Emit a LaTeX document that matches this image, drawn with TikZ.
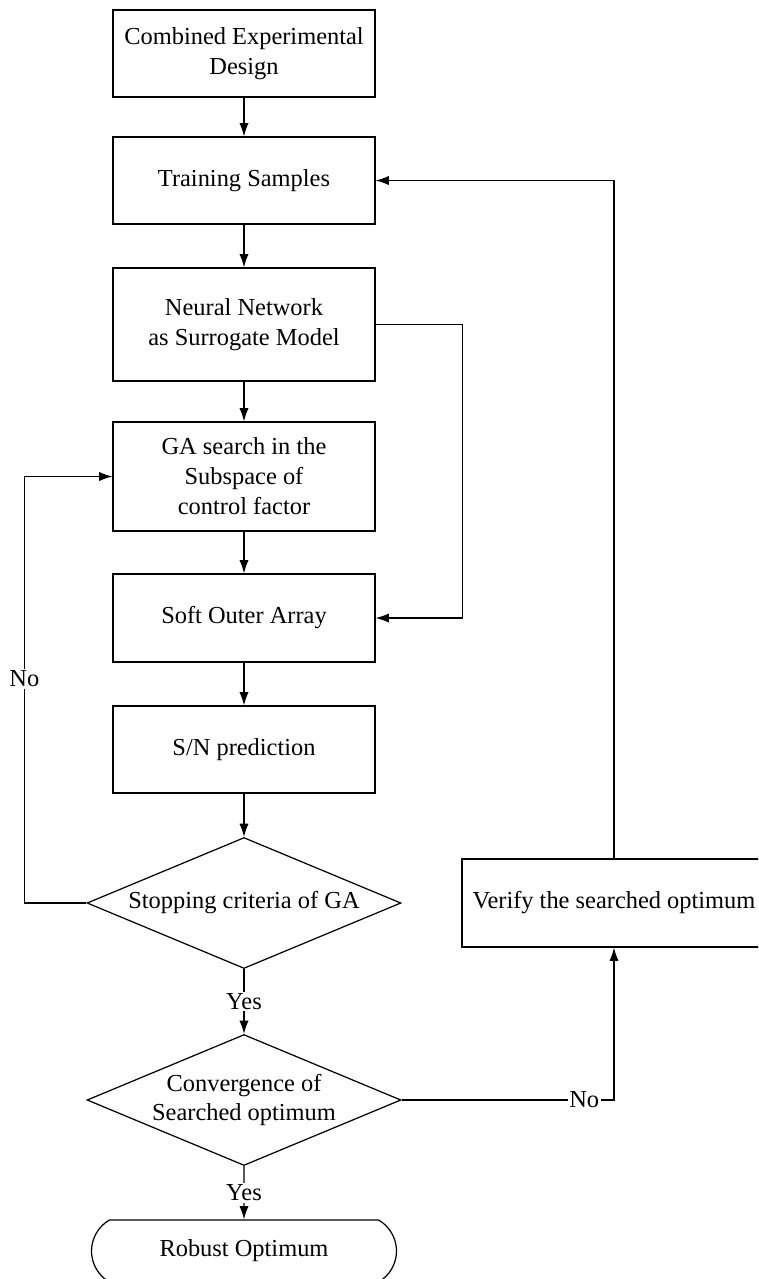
\documentclass[tikz,border=0pt]{standalone}
\usepackage{fontspec}
\setmainfont{Liberation Serif}
\usetikzlibrary{arrows.meta,shapes.geometric,shapes.misc}

\begin{document}
\begin{tikzpicture}[x=0.02cm,y=-0.02cm,>={Latex[length=7.5pt,width=5.2pt]},line width=0.7pt,
    font=\fontsize{13.9}{17}\selectfont,
    box/.style={draw,minimum width=5.24cm,minimum height=1.74cm,align=center,inner sep=0pt},
    test/.style={draw,diamond,aspect=2.4,minimum width=6.28cm,minimum height=2.62cm,align=center,inner sep=0pt},
    lab/.style={fill=white,inner sep=1pt}]
    \useasboundingbox (0,0) rectangle (758,1279);
    \clip (0,0) rectangle (758,1279);
    \node[box] (design) at (244,53.5) {Combined Experimental\\ Design};
    \node[box] (train) at (244,180.5) {Training Samples};
    \node[box,minimum height=2.26cm] (nn) at (244,324.5) {Neural Network\\ as Surrogate Model};
    \node[box,minimum height=2.18cm] (ga) at (244,476.5) {GA search in the\\ Subspace of\\ control factor};
    \node[box,minimum height=1.76cm] (soa) at (244,618) {Soft Outer Array};
    \node[box] (sn) at (244,749.5) {S/N prediction};
    \node[test] (stopga) at (244,903) {Stopping criteria of GA};
    \node[test] (conv) at (244,1100) {Convergence of\\ Searched optimum};
    \node[draw,rounded rectangle,rounded rectangle arc length=120,minimum width=6.1cm,minimum height=1.24cm,inner sep=0pt] (robust) at (244,1251) {Robust Optimum};
    \node[box,minimum width=6.08cm,minimum height=1.76cm] (verify) at (614,903) {Verify the searched optimum};
    \draw[->] (design) -- (train);
    \draw[->] (train) -- (nn);
    \draw[->] (nn) -- (ga);
    \draw[->] (ga) -- (soa);
    \draw[->] (soa) -- (sn);
    \draw[->] (sn) -- (stopga);
    \draw[->] (stopga) -- node[lab] {Yes} (conv);
    \draw[->] (conv) -- node[lab] {Yes} (robust);
    \draw[->] (nn.east) -- ++(87,0) |- (soa.east);
    \draw[->] (stopga.west) -- ++(-62,0) |- node[lab,pos=0.263] {No} (ga.west);
    \draw[->] (conv.east) -| node[lab,pos=0.43] {No} (verify.south);
    \draw[->] (verify.north) |- (train.east);
\end{tikzpicture}
\end{document}
